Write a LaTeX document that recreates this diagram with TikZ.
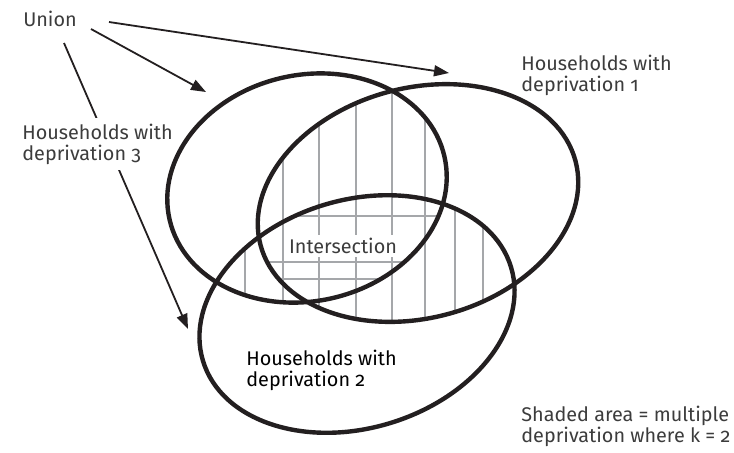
\documentclass[tikz,border=0pt]{standalone}
\usepackage{fontspec}
\setmainfont{Fira Sans}[Numbers=OldStyle]
\usetikzlibrary{arrows.meta}
\definecolor{inchiostro}{HTML}{231F20}
\definecolor{testo}{HTML}{3C3C3C}
\definecolor{griglia}{HTML}{A5A7AA}
% Insiemi
\newcommand{\insA}{(307,188) circle [x radius=141, y radius=113, rotate=13]}
\newcommand{\insB}{(418,203) circle [x radius=163, y radius=115, rotate=15]}
\newcommand{\insC}{(357,314) circle [x radius=161, y radius=114, rotate=17]}
\tikzset{
  lab/.style={font=\fontsize{9.9}{10.2}\selectfont, text=testo, align=left, inner sep=0pt},
  freccia/.style={-{Triangle[length=7.5pt,width=5.5pt]}, line width=0.9pt, draw=inchiostro},
  bordo/.style={line width=2.2pt, draw=inchiostro},
  riga/.style={line width=1pt, draw=griglia}
}
\begin{document}
\begin{tikzpicture}[x=0.5pt,y=-0.5pt]
    \useasboundingbox (0,0) rectangle (734,452);
    % Tratteggio
    \begin{scope}
        \clip \insA; \clip \insB;
        \foreach \x in {245,283,319,356,392,425,455,483}
            \draw[riga] (\x,40) -- (\x,450);
    \end{scope}
    \begin{scope}
        \clip \insA; \clip \insC;
        \foreach \x in {245,283,319,356,392,425,455,483}
            \draw[riga] (\x,40) -- (\x,450);
    \end{scope}
    \begin{scope}
        \clip \insB; \clip \insC;
        \foreach \x in {245,283,319,356,392,425,455,483}
            \draw[riga] (\x,40) -- (\x,450);
    \end{scope}
    \begin{scope}
        \clip \insA; \clip \insB; \clip \insC;
        \foreach \y in {216,262,279}
            \draw[riga] (150,\y) -- (600,\y);
    \end{scope}
    % Frecce
    \node[lab] (union) at (50,19) {Union};
    \coordinate (u1) at (91,29);
    \coordinate (u2) at (109,22);
    \coordinate (u3) at (64,43);
    \coordinate (pA) at (206,92);
    \coordinate (pB) at (449,73);
    \coordinate (pC) at (188,329);
    \draw[freccia] (u1) -- (pA);
    \draw[freccia] (u2) -- (pB);
    \draw[freccia] (u3) -- (pC);
    \node[lab, anchor=north west, fill=white, inner xsep=0pt, inner ysep=3pt] (dep3) at (22,118) {Households with\\deprivation 3};
    % Ellissi
    \draw[bordo] \insA;
    \draw[bordo] \insB;
    \draw[bordo] \insC;
    \node[lab, fill=white, inner sep=1.5pt] (inter) at (343,246) {Intersection};
    % Testi
    \node[lab, anchor=north west] (dep1) at (521,55) {Households with\\deprivation 1};
    \node[lab, anchor=north west, text=black] (dep2) at (246,350) {Households with\\deprivation 2};
    \node[lab, anchor=north west] (nota) at (521,406) {Shaded area = multiple\\deprivation where k = 2};
\end{tikzpicture}
\end{document}
